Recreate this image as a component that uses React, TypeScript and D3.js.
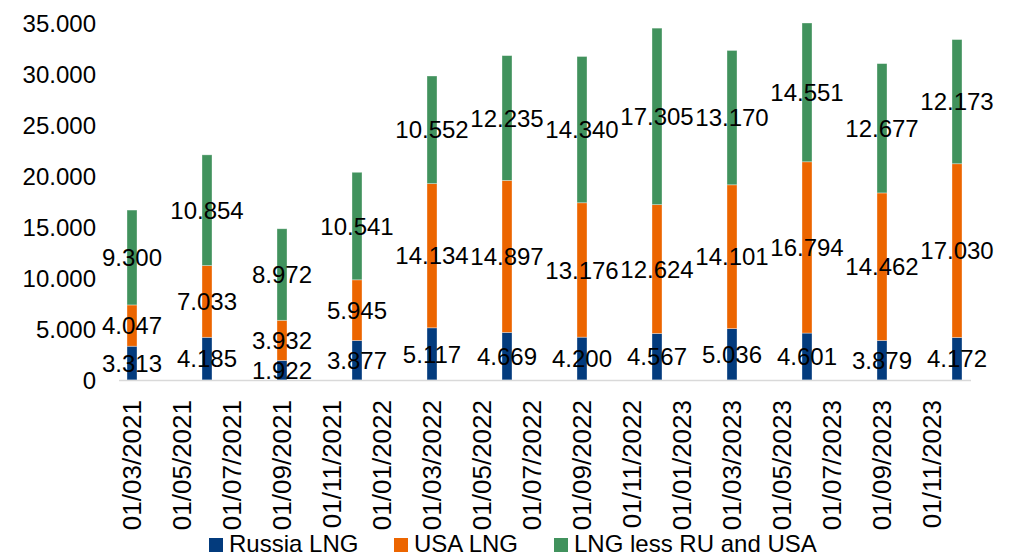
import React from "react";
import * as d3 from "d3";

const dates = [
  "01/03/2021", "01/06/2021", "01/09/2021", "01/12/2021",
  "01/03/2022", "01/06/2022", "01/09/2022", "01/12/2022",
  "01/03/2023", "01/06/2023", "01/09/2023", "01/12/2023",
];
const russiaLNG = [3313, 4185, 1922, 3877, 5117, 4669, 4200, 4567, 5036, 4601, 3879, 4172];
const usaLNG = [4047, 7033, 3932, 5945, 14134, 14897, 13176, 12624, 14101, 16794, 14462, 17030];
const otherLNG = [9300, 10854, 8972, 10541, 10552, 12235, 14340, 17305, 13170, 14551, 12677, 12173];

const xTickLabels = [
  "01/03/2021", "01/05/2021", "01/07/2021", "01/09/2021", "01/11/2021",
  "01/01/2022", "01/03/2022", "01/05/2022", "01/07/2022", "01/09/2022", "01/11/2022",
  "01/01/2023", "01/03/2023", "01/05/2023", "01/07/2023", "01/09/2023", "01/11/2023",
];
const yTicks = [0, 5000, 10000, 15000, 20000, 25000, 30000, 35000];

const seriesNames = ["Russia LNG", "USA LNG", "LNG less RU and USA"];
const seriesKeys = ["russia", "usa", "other"];
const colors = ["#033B7D", "#EC6500", "#41925D"];

const W = 1017;
const H = 557;
const FONT = "'Liberation Sans', Arial, sans-serif";

const locale = d3.formatLocale({ decimal: ",", thousands: ".", grouping: [3], currency: ["", ""] });
const fmt = locale.format(",");

function monthIndex(s: string) {
  const [, m, y] = s.split("/").map(Number);
  return (y - 2021) * 12 + (m - 3);
}

export default function App() {
  const x = d3.scaleLinear().domain([-0.5, 33.5]).range([119.5, 969.5]);
  const y = d3.scaleLinear().domain([0, 35000]).range([380, 23]);
  const barW = 10;
  const yTop = y(35000);

  const rows = dates.map((d, i) => ({
    date: d,
    russia: russiaLNG[i],
    usa: usaLNG[i],
    other: otherLNG[i],
  }));
  const stacked = d3.stack<any>().keys(seriesKeys)(rows);

  const legendItems = [
    { x: 209, label: seriesNames[0], color: colors[0] },
    { x: 394, label: seriesNames[1], color: colors[1] },
    { x: 554, label: seriesNames[2], color: colors[2] },
  ];

  return (
    <svg
      width={W}
      height={H}
      style={{ position: "absolute", left: 0, top: 0, background: "#fff" }}
      fontFamily={FONT}
    >
      <rect width={W} height={H} fill="#fff" />
      {/* y tick labels */}
      {yTicks.map((t) => (
        <text key={t} x={96} y={y(t)} dy="0.36em" textAnchor="end" fontSize={24} fill="#000">
          {fmt(t)}
        </text>
      ))}
      {/* bars */}
      {stacked.map((s, si) => (
        <g key={s.key}>
          {s.map((d, i) => {
            const cx = x(monthIndex(dates[i]));
            const top = Math.max(y(d[1]), yTop);
            return (
              <rect
                key={i}
                x={cx - barW / 2}
                y={top}
                width={barW}
                height={y(d[0]) - top}
                fill={colors[si]}
                stroke="#ffffff"
                strokeOpacity={0.45}
                strokeWidth={0.75}
              />
            );
          })}
        </g>
      ))}
      {/* axis line */}
      <line x1={119} x2={971} y1={380.5} y2={380.5} stroke="#D9D9D9" strokeWidth={1.5} />
      {/* data labels */}
      {stacked.map((s) => (
        <g key={"l" + s.key}>
          {s.map((d, i) => {
            const cx = x(monthIndex(dates[i]));
            const top = Math.max(y(d[1]), yTop);
            const cy = (y(d[0]) + top) / 2;
            return (
              <text key={i} x={cx} y={cy} dy="0.36em" textAnchor="middle" fontSize={24} fill="#000">
                {fmt(d[1] - d[0])}
              </text>
            );
          })}
        </g>
      ))}
      {/* x tick labels */}
      {xTickLabels.map((t) => {
        const tx = x(monthIndex(t));
        return (
          <text
            key={t}
            transform={`translate(${tx},400) rotate(-90)`}
            dy="0.36em"
            textAnchor="end"
            fontSize={26}
            fill="#000"
          >
            {t}
          </text>
        );
      })}
      {/* legend */}
      {legendItems.map((l) => (
        <g key={l.label}>
          <rect x={l.x} y={538} width={14} height={14} fill={l.color} />
          <text x={l.x + 20} y={552} fontSize={24} fill="#000">
            {l.label}
          </text>
        </g>
      ))}
    </svg>
  );
}
